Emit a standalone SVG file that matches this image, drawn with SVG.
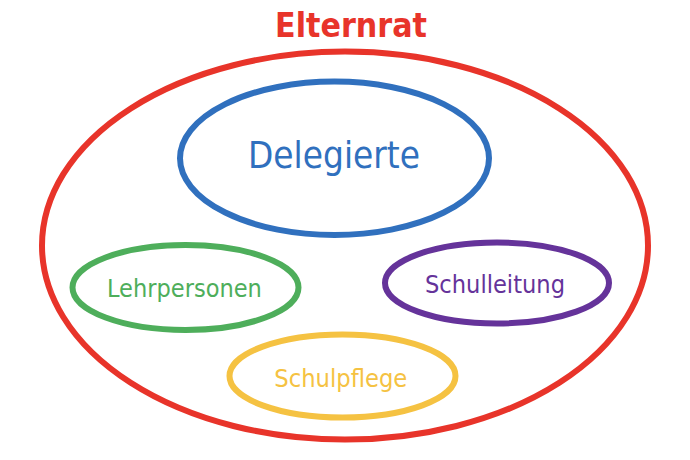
<svg xmlns="http://www.w3.org/2000/svg" width="690" height="460" viewBox="0 0 690 460">
<style>
.e{fill:none;stroke-width:6}
.t{font-family:"DejaVu Sans","Liberation Sans",sans-serif;text-anchor:middle}
</style>
<rect width="690" height="460" fill="#ffffff"/>
<g id="elternrat">
<ellipse class="e" cx="345" cy="245.6" rx="303" ry="194" stroke="#E8342A" stroke-width="6.5"/>
<text class="t" x="351" y="37.3" font-size="33" font-weight="bold" fill="#E8342A" textLength="152" lengthAdjust="spacingAndGlyphs">Elternrat</text>
</g>
<g id="delegierte">
<ellipse class="e" cx="334.5" cy="158.3" rx="154.5" ry="76.7" stroke="#3070BE"/>
<text class="t" x="334" y="168" font-size="38" fill="#3070BE" textLength="172" lengthAdjust="spacingAndGlyphs">Delegierte</text>
</g>
<g id="lehrpersonen">
<ellipse class="e" cx="185.5" cy="287.5" rx="113" ry="42.5" stroke="#4EAE5B"/>
<text class="t" x="184.4" y="297.3" font-size="25.5" fill="#4EAE5B" textLength="155" lengthAdjust="spacingAndGlyphs">Lehrpersonen</text>
</g>
<g id="schulleitung">
<ellipse class="e" cx="497" cy="283" rx="112" ry="40.5" stroke="#65339A"/>
<text class="t" x="495" y="293.3" font-size="25.5" fill="#65339A" textLength="140" lengthAdjust="spacingAndGlyphs">Schulleitung</text>
</g>
<g id="schulpflege">
<ellipse class="e" cx="342.5" cy="376" rx="113" ry="41.5" stroke="#F5C242"/>
<text class="t" x="340.8" y="386.7" font-size="25.5" fill="#F5C242" textLength="133" lengthAdjust="spacingAndGlyphs">Schulpflege</text>
</g>
<g id="connectors"></g>
</svg>
